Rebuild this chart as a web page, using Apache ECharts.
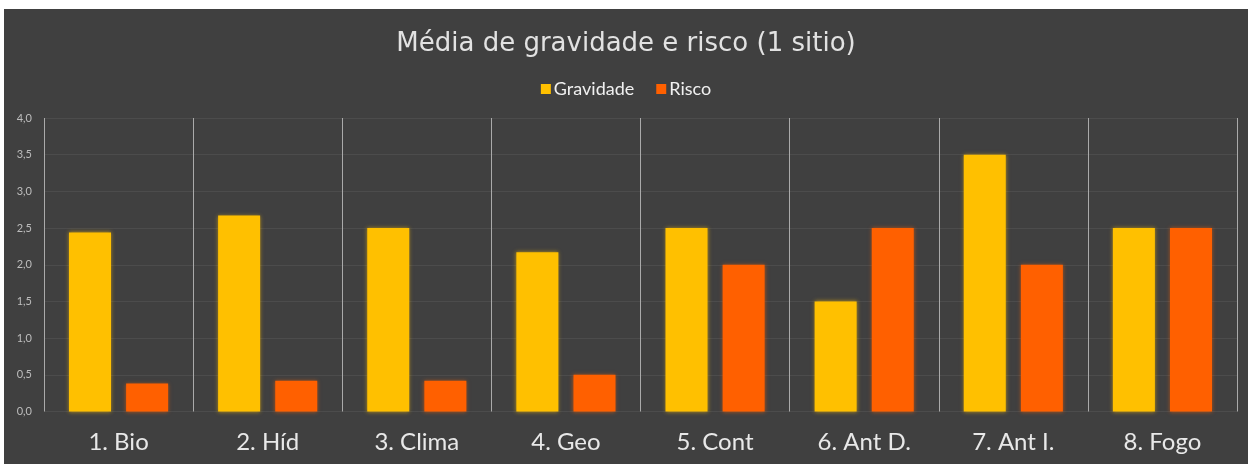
<!DOCTYPE html>
<html>
<head>
<meta charset="utf-8">
<script src="https://cdn.jsdelivr.net/npm/echarts@6/dist/echarts.min.js"></script>
<style>
html,body{margin:0;padding:0;background:#ffffff;}
#c{position:absolute;left:4px;top:9px;width:1244px;height:455px;}
</style>
</head>
<body>
<div id="c"></div>
<script>
var categories = ['1. Bio', '2. Híd', '3. Clima', '4. Geo', '5. Cont', '6. Ant D.', '7. Ant I.', '8. Fogo'];
var gravidade = [2.44, 2.67, 2.5, 2.17, 2.5, 1.5, 3.5, 2.5];
var risco = [0.38, 0.42, 0.42, 0.5, 2.0, 2.5, 2.0, 2.5];
var seriesNames = ['Gravidade', 'Risco'];

var chart = echarts.init(document.getElementById('c'));
var font = 'Lato, "Noto Sans", sans-serif';
chart.setOption({
  backgroundColor: '#404040',
  animation: false,
  title: {
    text: 'Média de gravidade e risco (1 sitio)',
    left: 'center',
    top: 17,
    textStyle: { color: '#e2e2e2', fontSize: 26, fontWeight: 'normal', fontFamily: '"DejaVu Sans", sans-serif' }
  },
  legend: {
    data: seriesNames,
    top: 66,
    left: 'center',
    itemWidth: 10,
    itemHeight: 10,
    itemGap: 22,
    icon: 'rect',
    textStyle: { color: '#f0f0f0', fontSize: 18, fontFamily: font, padding: [0, 0, 0, -2] }
  },
  grid: { left: 40, right: 11, top: 109, bottom: 52.5 },
  xAxis: {
    type: 'category',
    data: categories,
    boundaryGap: true,
    axisLine: { show: false },
    axisTick: { show: false },
    splitLine: { show: true, lineStyle: { color: '#aaaaaa', width: 1 } },
    axisLabel: { color: '#e8e8e8', fontSize: 24, fontFamily: font, margin: 19 }
  },
  yAxis: {
    type: 'value',
    min: 0,
    max: 4,
    interval: 0.5,
    axisLine: { show: false },
    axisTick: { show: false },
    splitLine: { lineStyle: { color: '#4c4c4c', width: 1 } },
    axisLabel: {
      color: '#bdbdbd', fontSize: 11, fontFamily: font, margin: 12,
      formatter: function (v) { return v.toFixed(1).replace('.', ','); }
    }
  },
  series: [
    {
      name: seriesNames[0],
      type: 'bar',
      data: gravidade,
      barWidth: 42,
      barGap: '36%',
      itemStyle: { color: '#FFC000', shadowBlur: 4, shadowColor: 'rgba(255,192,0,0.6)' }
    },
    {
      name: seriesNames[1],
      type: 'bar',
      data: risco,
      barWidth: 42,
      barGap: '36%',
      itemStyle: { color: '#FF6000', shadowBlur: 4, shadowColor: 'rgba(255,96,0,0.6)' }
    }
  ]
});
</script>
</body>
</html>
